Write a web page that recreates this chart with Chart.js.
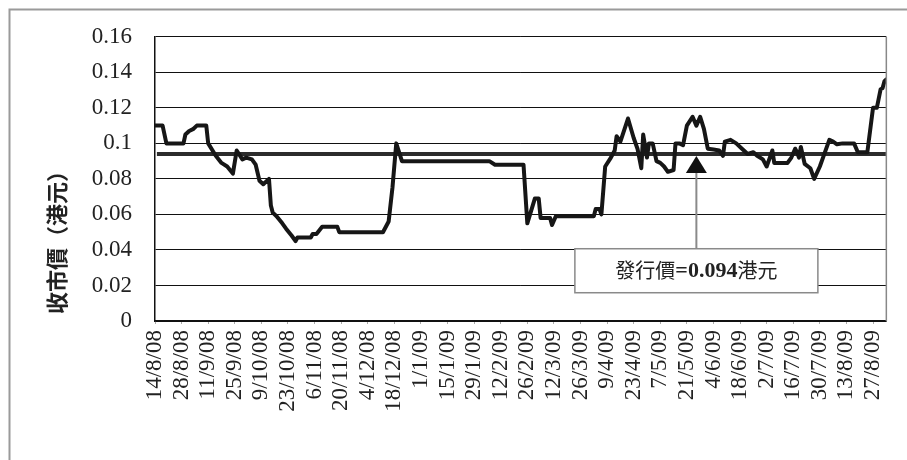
<!DOCTYPE html>
<html>
<head>
<meta charset="utf-8">
<script src="https://cdn.jsdelivr.net/npm/chart.js@4.4.1/dist/chart.umd.min.js"></script>
<style>
  html, body { margin: 0; padding: 0; background: #fff; }
</style>
</head>
<body>
<canvas id="chart" width="907" height="460"></canvas>
<script>
// days counted from 14/8/08
const dayOffsets = [
  0, 4, 6, 15, 16, 18, 20, 22, 27, 28, 32, 35, 38, 41, 43, 46, 48, 51, 53, 55,
  57, 60, 61, 62, 64, 67, 69, 72, 74, 75, 82, 83, 85, 88, 96, 97, 120, 123, 125, 127,
  130, 176, 179, 194, 196, 200, 202, 203, 208, 209, 211, 231, 232, 234, 235, 237, 240, 242, 243, 245,
  249, 252, 254, 256, 257, 259, 260, 262, 264, 266, 268, 270, 273, 274, 276, 278, 280, 283, 285, 287,
  289, 291, 294, 297, 299, 300, 303, 306, 309, 312, 315, 317, 320, 322, 324, 325, 326, 333, 335, 337,
  338, 339, 340, 342, 345, 347, 350, 352, 355, 357, 359, 362, 368, 370, 375, 378, 380, 382, 383, 384,
  385
];
const closePrices = [
  0.110, 0.110, 0.100, 0.100, 0.105, 0.107, 0.108, 0.110, 0.110, 0.100, 0.093, 0.089, 0.087, 0.083, 0.096, 0.091, 0.092, 0.091, 0.088, 0.079,
  0.077, 0.080, 0.065, 0.061, 0.059, 0.055, 0.052, 0.048, 0.045, 0.047, 0.047, 0.049, 0.049, 0.053, 0.053, 0.050, 0.050, 0.056, 0.075, 0.100,
  0.090, 0.090, 0.088, 0.088, 0.055, 0.069, 0.069, 0.058, 0.058, 0.054, 0.059, 0.059, 0.063, 0.063, 0.060, 0.087, 0.092, 0.096, 0.104, 0.101,
  0.114, 0.103, 0.097, 0.086, 0.105, 0.092, 0.100, 0.100, 0.090, 0.089, 0.087, 0.084, 0.085, 0.100, 0.100, 0.099, 0.110, 0.115, 0.110, 0.115,
  0.108, 0.097, 0.0965, 0.096, 0.093, 0.101, 0.102, 0.100, 0.097, 0.094, 0.095, 0.093, 0.091, 0.087, 0.093, 0.096, 0.089, 0.089, 0.092, 0.097,
  0.095, 0.092, 0.098, 0.0885, 0.086, 0.080, 0.087, 0.093, 0.102, 0.101, 0.0995, 0.100, 0.100, 0.095, 0.095, 0.120, 0.120, 0.1305, 0.131, 0.135,
  0.136
];
const tickDays = [0, 14, 28, 42, 56, 70, 84, 98, 112, 126, 140, 154, 168, 182, 196, 210, 224, 238, 252, 266, 280, 294, 308, 322, 336, 350, 364, 378];
const tickLabels = [
  "14/8/08", "28/8/08", "11/9/08", "25/9/08", "9/10/08", "23/10/08", "6/11/08", "20/11/08", "4/12/08", "18/12/08",
  "1/1/09", "15/1/09", "29/1/09", "12/2/09", "26/2/09", "12/3/09", "26/3/09", "9/4/09", "23/4/09", "7/5/09",
  "21/5/09", "4/6/09", "18/6/09", "2/7/09", "16/7/09", "30/7/09", "13/8/09", "27/8/09"
];
const yTicks = [0, 0.02, 0.04, 0.06, 0.08, 0.1, 0.12, 0.14, 0.16];
const issuePrice = 0.094;
const issueLabel = ["發行價", "=0.094", "港元"];
const yTitle = "收市價（港元）";
const arrowDay = 285;
const labelBoxValue = 0.0283;

const serif = '"Liberation Serif", "Times New Roman", serif';
const cjk = '"Noto Sans CJK TC", "Noto Sans CJK SC", sans-serif';

const extras = {
  id: "extras",
  beforeDraw(chart) {
    const c = chart.ctx;
    c.save();
    c.fillStyle = "#fff";
    c.fillRect(0, 0, chart.width, chart.height);
    c.strokeStyle = "#9a9a9a";
    c.lineWidth = 2;
    c.strokeRect(9.5, 9.5, 1000, 1000);
    c.restore();
  },
  afterDatasetsDraw(chart) {
    const c = chart.ctx;
    const a = chart.chartArea;
    const xs = chart.scales.x, ys = chart.scales.y;
    c.save();
    // right edge of plot
    c.strokeStyle = "#888";
    c.lineWidth = 1.5;
    c.beginPath();
    c.moveTo(a.right, a.top);
    c.lineTo(a.right, a.bottom);
    c.stroke();

    // annotation
    const ax = xs.getPixelForValue(arrowDay);
    const tipY = ys.getPixelForValue(issuePrice) + 2;
    const cy = ys.getPixelForValue(labelBoxValue);
    const bw = 243, bh = 44;
    const bTop = cy - bh / 2;
    c.strokeStyle = "#8a8a8a";
    c.lineWidth = 2;
    c.beginPath();
    c.moveTo(ax, bTop);
    c.lineTo(ax, tipY + 15);
    c.stroke();
    c.fillStyle = "#111";
    c.beginPath();
    c.moveTo(ax, tipY);
    c.lineTo(ax - 10.5, tipY + 17);
    c.lineTo(ax + 10.5, tipY + 17);
    c.closePath();
    c.fill();

    c.fillStyle = "#fff";
    c.fillRect(ax - bw / 2, bTop, bw, bh);
    c.strokeStyle = "#8a8a8a";
    c.lineWidth = 1.5;
    c.strokeRect(ax - bw / 2, bTop, bw, bh);

    const fonts = [`20px ${cjk}`, `bold 22px ${serif}`, `20px ${cjk}`];
    let total = 0;
    const widths = issueLabel.map((t, i) => {
      c.font = fonts[i];
      const w = c.measureText(t).width;
      total += w;
      return w;
    });
    let tx = ax - total / 2;
    c.fillStyle = "#222";
    c.textBaseline = "middle";
    c.textAlign = "left";
    issueLabel.forEach((t, i) => {
      c.font = fonts[i];
      c.fillText(t, tx, cy + (i === 1 ? 1 : 0));
      tx += widths[i];
    });

    // y axis title
    c.translate(57, 237);
    c.rotate(-Math.PI / 2);
    c.font = `bold 22px ${cjk}`;
    c.textAlign = "center";
    c.fillStyle = "#222";
    c.fillText(yTitle, 0, 0);
    c.restore();
  }
};

new Chart(document.getElementById("chart"), {
  type: "line",
  data: {
    datasets: [
      {
        label: "收市價",
        data: dayOffsets.map((d, i) => ({ x: d, y: closePrices[i] })),
        borderColor: "#161616",
        borderWidth: 4,
        pointRadius: 0,
        tension: 0,
        borderJoinStyle: "round",
        borderCapStyle: "round",
      },
      {
        label: "發行價",
        data: [
          { x: dayOffsets[0] + 1, y: issuePrice },
          { x: dayOffsets[dayOffsets.length - 1], y: issuePrice },
        ],
        borderColor: "#2c2c2c",
        borderWidth: 4,
        pointRadius: 0,
      },
    ],
  },
  options: {
    responsive: false,
    animation: false,
    devicePixelRatio: 1,
    layout: { padding: { top: 33, right: 20, left: 0, bottom: 0 } },
    plugins: { legend: { display: false }, tooltip: { enabled: false } },
    scales: {
      x: {
        type: "linear",
        min: 0,
        max: dayOffsets[dayOffsets.length - 1],
        afterBuildTicks: (s) => { s.ticks = tickDays.map((v) => ({ value: v })); },
        afterFit: (s) => { s.height = 139; },
        ticks: {
          callback: (v, i) => tickLabels[i],
          autoSkip: false,
          minRotation: 90,
          maxRotation: 90,
          padding: 6,
          color: "#222",
          font: { family: serif, size: 23 },
        },
        grid: { drawOnChartArea: false, drawTicks: true, tickLength: 3, color: "#aaa" },
        border: { color: "#111", width: 1.5 },
      },
      y: {
        min: 0,
        max: 0.16,
        afterBuildTicks: (s) => { s.ticks = yTicks.map((v) => ({ value: v })); },
        afterFit: (s) => { s.width = 155; },
        ticks: {
          callback: (v) => String(Math.round(v * 100) / 100),
          padding: 23,
          color: "#222",
          font: { family: serif, size: 23 },
        },
        grid: { color: "#111", lineWidth: 1, drawTicks: false },
        border: { color: "#111", width: 1.5 },
      },
    },
  },
  plugins: [extras],
});
</script>
</body>
</html>
